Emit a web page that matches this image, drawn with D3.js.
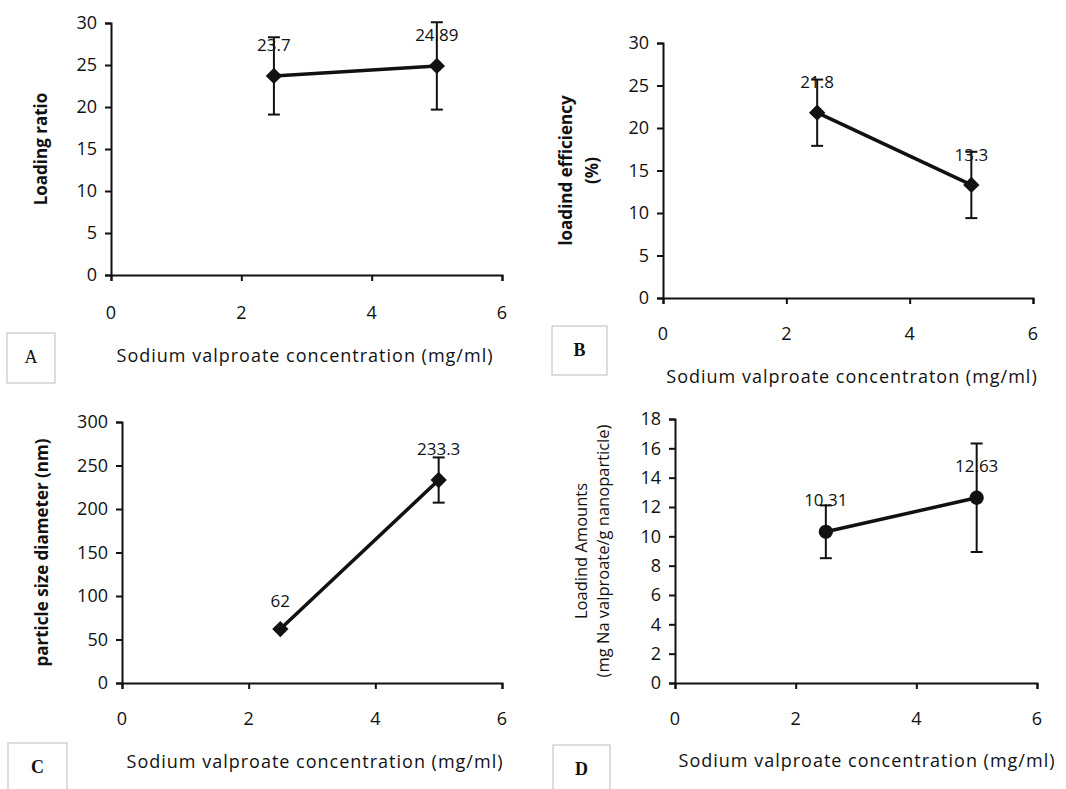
<!DOCTYPE html>
<html>
<head>
<meta charset="utf-8">
<script src="https://cdn.jsdelivr.net/npm/d3@7"></script>
<style>
  body { margin: 0; background: #fff; }
  svg text { font-family: "Open Sans", sans-serif; fill: #111; }
</style>
</head>
<body>
<div id="chart"></div>
<script>
/* Sodium valproate panels A-D */

const concentrations = [2.5, 5];
const xTicks = [0, 2, 4, 6];

const loadingRatio = [23.7, 24.89];
const loadingRatioErr = [4.6, 5.2];

const loadingEfficiency = [21.8, 13.3];
const loadingEfficiencyErr = [3.9, 3.9];

const particleSize = [62, 233.3];
const particleSizeErr = [0, 26];

const loadingAmount = [10.31, 12.63];
const loadingAmountErr = [1.8, 3.7];

const yTicksA = [0, 5, 10, 15, 20, 25, 30];
const yTicksB = [0, 5, 10, 15, 20, 25, 30];
const yTicksC = [0, 50, 100, 150, 200, 250, 300];
const yTicksD = [0, 2, 4, 6, 8, 10, 12, 14, 16, 18];

const xTitle = "Sodium valproate concentration (mg/ml)";

const panels = [
  { letter: "A", values: loadingRatio, errs: loadingRatioErr, yTicks: yTicksA,
    yLabel: ["Loading ratio"], bold: true, symbol: d3.symbolDiamond2,
    box: { left: 111, right: 502, top: 23, bottom: 275 },
    labelDy: [-25, -25],
    yLabelX: [42], xTitleText: xTitle, xTitleY: 362, xTitleX: 305, tickY: 319,
    letterBox: { x: 7, y: 333, w: 48, h: 50 } },
  { letter: "B", values: loadingEfficiency, errs: loadingEfficiencyErr, yTicks: yTicksB,
    yLabel: ["loadind efficiency", "(%)"], bold: true, symbol: d3.symbolDiamond2,
    box: { left: 663, right: 1033, top: 43, bottom: 298 },
    labelDy: [-25, -24],
    yLabelX: [567, 593], xTitleText: "Sodium valproate concentraton (mg/ml)", xTitleY: 383, xTitleX: 852, tickY: 340,
    letterBox: { x: 552, y: 326, w: 55, h: 49 } },
  { letter: "C", values: particleSize, errs: particleSizeErr, yTicks: yTicksC,
    yLabel: ["particle size diameter (nm)"], bold: true, symbol: d3.symbolDiamond2,
    box: { left: 122, right: 502, top: 422, bottom: 683 },
    labelDy: [-22, -25],
    yLabelX: [43], xTitleText: xTitle, xTitleY: 768, xTitleX: 315, tickY: 725,
    letterBox: { x: 8, y: 743, w: 59, h: 60 } },
  { letter: "D", values: loadingAmount, errs: loadingAmountErr, yTicks: yTicksD,
    yLabel: ["Loadind Amounts", "(mg Na valproate/g nanoparticle)"], bold: false, symbol: d3.symbolCircle,
    box: { left: 675, right: 1037, top: 419, bottom: 683 },
    labelDy: [-26, -26],
    yLabelX: [583, 605], xTitleText: xTitle, xTitleY: 767, xTitleX: 867, tickY: 725,
    letterBox: { x: 553, y: 745, w: 57, h: 60 } }
];

const svg = d3.select("#chart")
  .append("svg")
  .attr("width", 1066)
  .attr("height", 789);

svg.append("rect").attr("width", 1066).attr("height", 789).attr("fill", "#fff");

panels.forEach(p => {
  const b = p.box;
  const yMax = p.yTicks[p.yTicks.length - 1];

  const x = d3.scaleLinear().domain([0, 6]).range([b.left, b.right]);
  const y = d3.scaleLinear().domain([0, yMax]).range([b.bottom, b.top]);

  const g = svg.append("g");

  // Axes
  g.append("g")
    .attr("transform", `translate(0, ${b.bottom})`)
    .call(d3.axisBottom(x).tickValues(xTicks).tickSize(6).tickFormat(""))
    .call(a => a.select(".domain").attr("stroke", "#111").attr("stroke-width", 2))
    .call(a => a.selectAll("line").attr("stroke", "#111").attr("stroke-width", 2));

  g.selectAll(".xtick")
    .data(xTicks)
    .join("text")
    .attr("x", d => x(d))
    .attr("y", p.tickY)
    .attr("text-anchor", "middle")
    .attr("font-size", 18)
    .text(d => d);

  g.append("g")
    .attr("transform", `translate(${b.left}, 0)`)
    .call(d3.axisLeft(y).tickValues(p.yTicks).tickSize(6).tickPadding(8))
    .call(a => a.select(".domain").attr("stroke", "#111").attr("stroke-width", 2))
    .call(a => a.selectAll("line").attr("stroke", "#111").attr("stroke-width", 2))
    .call(a => a.selectAll("text")
      .attr("font-size", 18)
      .attr("fill", "#111")
      .style("font-family", "'Open Sans', sans-serif"));

  // Y label
  const midY = (b.top + b.bottom) / 2;
  p.yLabel.forEach((t, i) => {
    g.append("text")
      .attr("transform", `translate(${p.yLabelX[i]}, ${midY}) rotate(-90)`)
      .attr("text-anchor", "middle")
      .attr("dominant-baseline", "middle")
      .attr("font-size", p.bold ? 17 : 16.5)
      .attr("font-weight", p.bold ? "bold" : "normal")
      .text(t);
  });

  // X title
  g.append("text")
    .attr("x", p.xTitleX)
    .attr("y", p.xTitleY)
    .attr("text-anchor", "middle")
    .attr("font-size", 18)
    .attr("letter-spacing", 1)
    .text(p.xTitleText);

  // Letter box
  const lb = p.letterBox;
  g.append("rect")
    .attr("x", lb.x).attr("y", lb.y)
    .attr("width", lb.w).attr("height", lb.h)
    .attr("fill", "none").attr("stroke", "#bbb").attr("stroke-width", 1);
  g.append("text")
    .attr("x", lb.x + lb.w / 2)
    .attr("y", lb.y + 30)
    .attr("text-anchor", "middle")
    .attr("font-size", 18)
    .attr("font-weight", p.letter === "A" ? "normal" : "bold")
    .style("font-family", "'Liberation Serif', serif")
    .text(p.letter);

  const pts = concentrations.map((c, i) => ({ x: c, y: p.values[i], e: p.errs[i], i }));

  // Error bars
  const eb = g.append("g").attr("stroke", "#111").attr("stroke-width", 2);
  pts.filter(d => d.e > 0).forEach(d => {
    eb.append("line")
      .attr("x1", x(d.x)).attr("x2", x(d.x))
      .attr("y1", y(d.y + d.e)).attr("y2", y(d.y - d.e));
    [d.y + d.e, d.y - d.e].forEach(v => {
      eb.append("line")
        .attr("x1", x(d.x) - 6).attr("x2", x(d.x) + 6)
        .attr("y1", y(v)).attr("y2", y(v));
    });
  });

  // Line
  g.append("path")
    .datum(pts)
    .attr("fill", "none")
    .attr("stroke", "#111")
    .attr("stroke-width", 3.5)
    .attr("d", d3.line().x(d => x(d.x)).y(d => y(d.y)));

  // Markers
  g.selectAll(".mk")
    .data(pts)
    .join("path")
    .attr("transform", d => `translate(${x(d.x)}, ${y(d.y)})`)
    .attr("d", d3.symbol().type(p.symbol).size(p.symbol === d3.symbolCircle ? 160 : 170))
    .attr("fill", "#111");

  // Data labels
  g.selectAll(".lbl")
    .data(pts)
    .join("text")
    .attr("x", d => x(d.x))
    .attr("y", d => y(d.y) + p.labelDy[d.i])
    .attr("text-anchor", "middle")
    .attr("font-size", 17)
    .text(d => d.y);
});
</script>
</body>
</html>
